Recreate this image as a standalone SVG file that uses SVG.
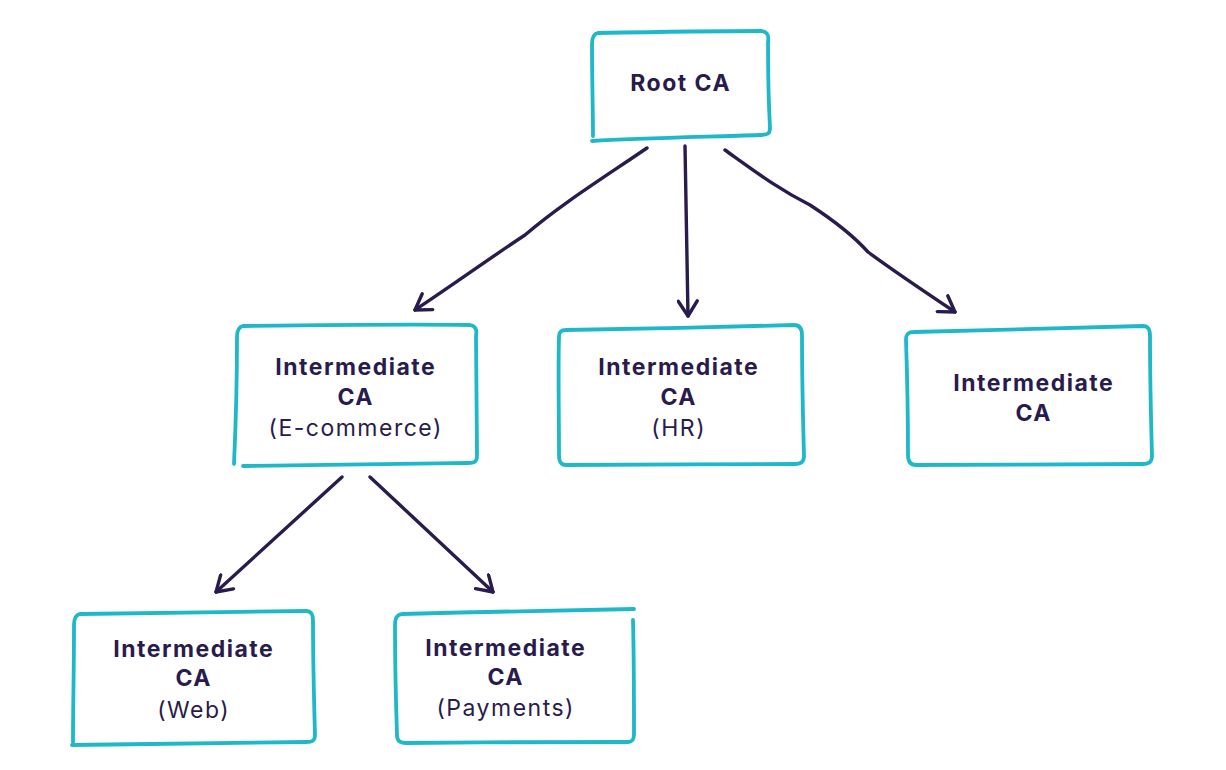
<svg xmlns="http://www.w3.org/2000/svg" width="1226" height="770" viewBox="0 0 1226 770">
<defs>
<marker id="ah" viewBox="0 0 22 22" refX="20" refY="11" markerWidth="22" markerHeight="22" markerUnits="userSpaceOnUse" orient="auto">
<path d="M5 1.5 L20 11 L5 20.5" fill="none" stroke="#2a1b4d" stroke-width="3.4" stroke-linecap="round" stroke-linejoin="round"/>
</marker>
</defs>
<style>
.box{fill:none;stroke:#1fb8c9;stroke-width:3.8;stroke-linecap:round;stroke-linejoin:round}
.t{font-family:Inter,"Noto Sans","Liberation Sans",sans-serif;font-size:23px;font-weight:700;fill:#2a1b4d;text-anchor:middle;letter-spacing:1.5px}
.s{font-family:Inter,"Noto Sans","Liberation Sans",sans-serif;font-size:23px;font-weight:400;fill:#2a1b4d;text-anchor:middle;letter-spacing:1.5px}
.c{fill:none;stroke:#2a1b4d;stroke-width:3.4;stroke-linecap:round;stroke-linejoin:round}
</style>
<rect width="1226" height="770" fill="#ffffff"/>
<g id="connectors">
<path class="c" d="M647 148 C600 180 560 205 525 235 C490 258 460 280 415 310" marker-end="url(#ah)"/>
<path class="c" d="M685 146 C686 200 687 260 688 316" marker-end="url(#ah)"/>
<path class="c" d="M725 150 C760 175 780 190 810 205 C830 218 850 232 868 252 C895 272 925 292 955 312" marker-end="url(#ah)"/>
<path class="c" d="M342 477 L216 592" marker-end="url(#ah)"/>
<path class="c" d="M370 477 L493 592" marker-end="url(#ah)"/>
</g>
<g id="root">
<path class="box" d="M598 33 C650 32 710 31 762 31 C768 32 769 36 768 42 C768 80 769 110 770 128 C770 134 767 135 760 135 C700 137 640 138 592 141 M598 33 C593 34 592 38 592 44 C592 80 593 110 593 136"/>
<text class="t" x="680.7" y="91">Root CA</text>
</g>
<g id="int-ecommerce">
<path class="box" d="M243 326 C320 325 400 324 470 325 C476 326 477 330 476 336 C476 380 477 420 477 456 C477 462 474 463 468 463 C390 464 310 465 243 466 M243 326 C238 327 237 331 237 337 C237 380 236 420 234 464"/>
<text class="t" x="355.7" y="375">Intermediate</text>
<text class="t" x="355.7" y="405">CA</text>
<text class="s" x="355.7" y="436">(E-commerce)</text>
</g>
<g id="int-hr">
<path class="box" d="M566 330 C640 329 720 327 794 325 C800 325 802 329 802 335 C802 380 803 420 804 456 C804 462 801 464 795 464 C720 464 640 465 566 465 C560 465 559 461 559 455 C559 410 558 370 559 337 C559 332 561 330 566 330"/>
<text class="t" x="678.7" y="375">Intermediate</text>
<text class="t" x="678.7" y="405">CA</text>
<text class="s" x="678.7" y="436">(HR)</text>
</g>
<g id="int-3">
<path class="box" d="M914 332 C990 330 1070 328 1143 326 C1149 326 1150 330 1150 336 C1150 380 1151 420 1152 456 C1152 462 1149 464 1143 464 C1070 464 990 465 916 465 C910 465 908 461 908 455 C908 410 907 370 906 340 C906 334 908 332 914 332"/>
<text class="t" x="1033.7" y="391">Intermediate</text>
<text class="t" x="1033.7" y="421">CA</text>
</g>
<g id="int-web">
<path class="box" d="M80 614 C150 613 230 612 306 611 C312 611 313 615 313 621 C313 660 314 700 315 735 C315 741 312 742 306 742 C230 743 150 744 72 745 M80 614 C75 615 74 619 74 625 C74 670 73 705 73 742"/>
<text class="t" x="193.7" y="657">Intermediate</text>
<text class="t" x="193.7" y="686">CA</text>
<text class="s" x="193.7" y="718">(Web)</text>
</g>
<g id="int-payments">
<path class="box" d="M402 614 C480 612 560 610 634 609 M402 614 C396 615 395 619 395 625 C395 670 396 705 397 735 C397 741 400 743 406 743 C480 742 560 742 628 742 C633 742 634 739 634 734 C634 700 634 660 633 620"/>
<text class="t" x="505.7" y="656">Intermediate</text>
<text class="t" x="505.7" y="685">CA</text>
<text class="s" x="505.7" y="716">(Payments)</text>
</g>
</svg>
